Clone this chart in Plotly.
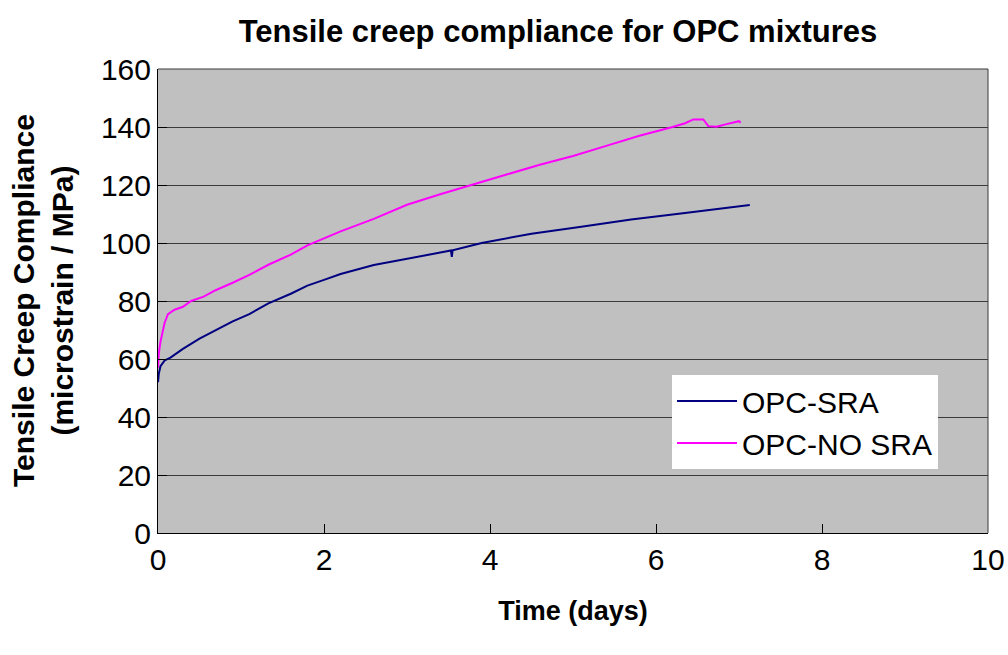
import plotly.graph_objects as go

# OPC-SRA series
sra_days = [0, 0.01, 0.03, 0.08, 0.15, 0.3, 0.5, 0.7, 0.9, 1.1, 1.33, 1.6, 1.8, 2.0,
            2.2, 2.6, 3.0, 3.4, 3.53, 3.54, 3.55, 3.9, 4.5, 5.1, 5.7, 6.3, 6.9, 7.13]
sra_vals = [52, 55, 57.5, 59.5, 60.5, 63.5, 67, 70, 73, 75.5, 79.2, 82.5, 85.3, 87.3,
            89.3, 92.4, 94.6, 96.7, 97.4, 95.2, 97.5, 100, 103.2, 105.6, 108.1, 110.2, 112.4, 113.1]

# OPC-NO SRA series
nosra_days = [0, 0.01, 0.03, 0.05, 0.08, 0.12, 0.2, 0.3, 0.4, 0.55, 0.7, 0.9, 1.1, 1.33,
              1.6, 1.8, 2.0, 2.2, 2.6, 3.0, 3.4, 3.8, 4.2, 4.6, 5.0, 5.4, 5.8, 6.2, 6.35,
              6.45, 6.57, 6.63, 6.73, 6.85, 6.95, 7.0, 7.02]
nosra_vals = [57, 62, 66, 68.5, 72.5, 75.5, 77, 78, 80, 81.5, 83.8, 86.3, 89, 92.5,
              96, 99.2, 101.5, 104, 108.3, 113.2, 116.8, 120.3, 123.6, 127, 130, 133.5, 137, 140, 141.3,
              142.6, 142.6, 140.3, 140.1, 141, 141.5, 142, 141.5]

x_ticks = [0, 2, 4, 6, 8, 10]
y_ticks = [0, 20, 40, 60, 80, 100, 120, 140, 160]

FONT = "Liberation Sans, Arial, sans-serif"
W, H = 1008, 655

fig = go.Figure()
fig.add_trace(go.Scatter(x=sra_days, y=sra_vals, mode="lines", name="OPC-SRA",
                         line=dict(color="#000080", width=2)))
fig.add_trace(go.Scatter(x=nosra_days, y=nosra_vals, mode="lines", name="OPC-NO SRA",
                         line=dict(color="#FF00FF", width=2)))

fig.update_layout(
    width=W, height=H,
    margin=dict(l=158, r=20, t=69, b=122, autoexpand=False),
    paper_bgcolor="white", plot_bgcolor="#C0C0C0",
    font=dict(family=FONT, color="black", size=30),
    title=dict(text="<b>Tensile creep compliance for OPC mixtures</b>",
               x=558/W, xanchor="center", y=1-31/H, yanchor="middle",
               font=dict(size=31, family=FONT)),
    showlegend=True,
    legend=dict(x=(672-158)/830, y=(533-375)/464, xanchor="left", yanchor="top",
                bgcolor="white", borderwidth=0, font=dict(size=30, family=FONT),
                itemwidth=60, tracegroupgap=2),
    xaxis=dict(range=[0, 10], tickvals=x_ticks, ticks="inside", ticklen=9, tickcolor="black",
               showline=True, linecolor="black", linewidth=1, mirror=False,
               showgrid=False, zeroline=False, tickfont=dict(size=30),
               title=dict(text="<b>Time (days)</b>", font=dict(size=27), standoff=26)),
    yaxis=dict(range=[0, 160], tickvals=y_ticks, ticks="inside", ticklen=9, tickcolor="black",
               showline=True, linecolor="black", linewidth=1, mirror=False,
               showgrid=True, gridcolor="#3a3a3a", gridwidth=1, zeroline=False,
               tickfont=dict(size=30)),
)

# plot-area border on top and right
fig.add_shape(type="line", xref="paper", yref="paper", x0=0, x1=1, y0=1, y1=1,
              line=dict(color="#3a3a3a", width=1))
fig.add_shape(type="line", xref="paper", yref="paper", x0=1, x1=1, y0=0, y1=1,
              line=dict(color="#3a3a3a", width=1))

fig.add_annotation(text="<b>Tensile Creep Compliance<br>(microstrain / MPa)</b>",
                   xref="paper", yref="paper", x=(43-158)/830, y=0.5,
                   xanchor="center", yanchor="middle", textangle=-90, showarrow=False,
                   font=dict(size=30, family=FONT))

fig.write_html("out.html", config={"displayModeBar": False},
               post_script="document.body.style.margin='0';document.body.style.overflow='hidden';")
